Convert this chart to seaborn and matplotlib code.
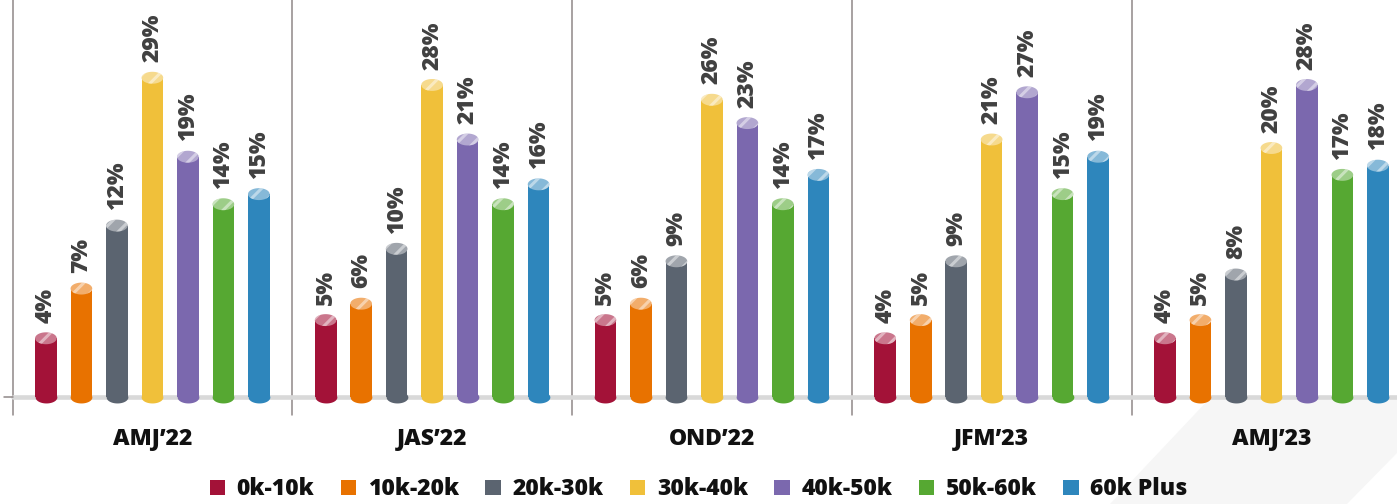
import numpy as np
import pandas as pd
import seaborn as sns
import matplotlib.pyplot as plt
from matplotlib.path import Path
from matplotlib.patches import Patch, Polygon
from matplotlib.colors import to_rgb
import matplotlib.transforms as mtransforms

quarters = ["AMJ’22", "JAS’22", "OND’22", "JFM’23", "AMJ’23"]
bands = ["0k-10k", "10k-20k", "20k-30k", "30k-40k", "40k-50k", "50k-60k", "60k Plus"]
colors = ["#A31238", "#E87200", "#5B6470", "#F0C03A", "#7B68AE", "#56A832", "#2E86BC"]

share_0_10 = [4, 5, 5, 4, 4]
share_10_20 = [7, 6, 6, 5, 5]
share_20_30 = [12, 10, 9, 9, 8]
share_30_40 = [29, 28, 26, 21, 20]
share_40_50 = [19, 21, 23, 27, 28]
share_50_60 = [14, 14, 14, 15, 17]
share_60_plus = [15, 16, 17, 19, 18]

shares = [share_0_10, share_10_20, share_20_30, share_30_40,
          share_40_50, share_50_60, share_60_plus]

rows = []
for band, vals in zip(bands, shares):
    for q, v in zip(quarters, vals):
        rows.append({"Quarter": q, "Band": band, "Share": v})
df = pd.DataFrame(rows)

sns.set_style("white")
plt.rcParams["font.family"] = ["Open Sans", "DejaVu Sans"]
plt.rcParams["hatch.linewidth"] = 2.2

W, H, DPI = 1397, 504, 100
fig = plt.figure(figsize=(W / DPI, H / DPI), dpi=DPI)

# faint diagonal band in the background
band_poly = Polygon([(1110 / W, 0), (1397 / W, (504 - 200) / H), (1, (504 - 453) / H), (1347 / W, 0)],
                    closed=True, transform=fig.transFigure, facecolor="#f6f6f6",
                    edgecolor="none", zorder=-5)
fig.patches.append(band_poly)

x0_px, base_px = 12.5, 397
ax = fig.add_axes([x0_px / W, (H - base_px) / H, (W - x0_px) / W, base_px / H])
ax.set_facecolor("white")

# bar heights in the source follow roughly a square-root scale
ax.set_yscale("function", functions=(lambda v: np.sqrt(np.clip(v, 0, None)), np.square))
ymin, ymax = 1.53, 40.9

sns.barplot(data=df, x="Quarter", y="Share", hue="Band", order=quarters, hue_order=bands,
            palette=colors, width=0.888, gap=0.389, saturation=1, legend=False,
            errorbar=None, ax=ax, zorder=3, linewidth=0)

ax.set_xlim(-0.5, 4.449)
ax.set_ylim(ymin, ymax)
ax.set_xlabel("")
ax.set_ylabel("")
ax.set_xticks([])
ax.set_yticks([])
for s in ax.spines.values():
    s.set_visible(False)

# baseline
ax.axhline(ymin, color="#d9d9d9", lw=3.3, zorder=2, clip_on=False)

# group separators
for i in range(5):
    ax.plot([i - 0.5, i - 0.5], [1.0, ymax], color="#8f8787", lw=1.1,
            zorder=1, clip_on=False)
ax.plot([-0.53, -0.5], [ymin, ymin], color="#8f8787", lw=1.1, clip_on=False)

# ellipse marker for the cylinder caps
t = np.linspace(0, 2 * np.pi, 60)
ell = Path(np.column_stack([np.cos(t), 0.55 * np.sin(t)]), closed=True)

def lighten(c, f):
    r, g, b = to_rgb(c)
    return (r + (1 - r) * f, g + (1 - g) * f, b + (1 - b) * f)

trans = ax.transData
for cont, col, vals in zip(ax.containers, colors, shares):
    for bar, v in zip(cont, vals):
        cx = bar.get_x() + bar.get_width() / 2
        p0 = trans.transform((bar.get_x(), ymax))[0]
        p1 = trans.transform((bar.get_x() + bar.get_width(), ymax))[0]
        size = (p1 - p0) * 72 / DPI
        ax.scatter([cx], [ymin], marker=ell, s=size ** 2, color=col, linewidths=0,
                   zorder=3, clip_on=False)
        ax.scatter([cx], [v], marker=ell, s=size ** 2, facecolor=lighten(col, 0.42),
                   edgecolors=(1, 1, 1, 0.45), linewidths=0, hatch="//", zorder=4,
                   clip_on=False)
        ax.annotate(f"{v}%", xy=(cx, v), xytext=(0, 11), textcoords="offset points",
                    rotation=90, ha="center", va="bottom", fontsize=16.5,
                    fontweight=800, color="#404040", zorder=5)

# quarter labels
blend = mtransforms.blended_transform_factory(ax.transData, ax.transAxes)
for i, q in enumerate(quarters):
    ax.text(i, -48 / base_px, q, transform=blend, ha="center", va="baseline",
            fontsize=16.5, fontweight=800, color="#111111")

handles = [Patch(facecolor=c, edgecolor="none", label=b) for b, c in zip(bands, colors)]
leg = fig.legend(handles=handles, loc="upper center", bbox_to_anchor=(0.5, 1 - 466 / H),
                 ncol=7, frameon=False, borderpad=0, handlelength=0.68, handleheight=0.68,
                 handletextpad=0.5, columnspacing=1.15,
                 prop={"size": 16.5, "weight": 800})
for txt in leg.get_texts():
    txt.set_color("#111111")

fig.savefig("out.png", dpi=DPI)
